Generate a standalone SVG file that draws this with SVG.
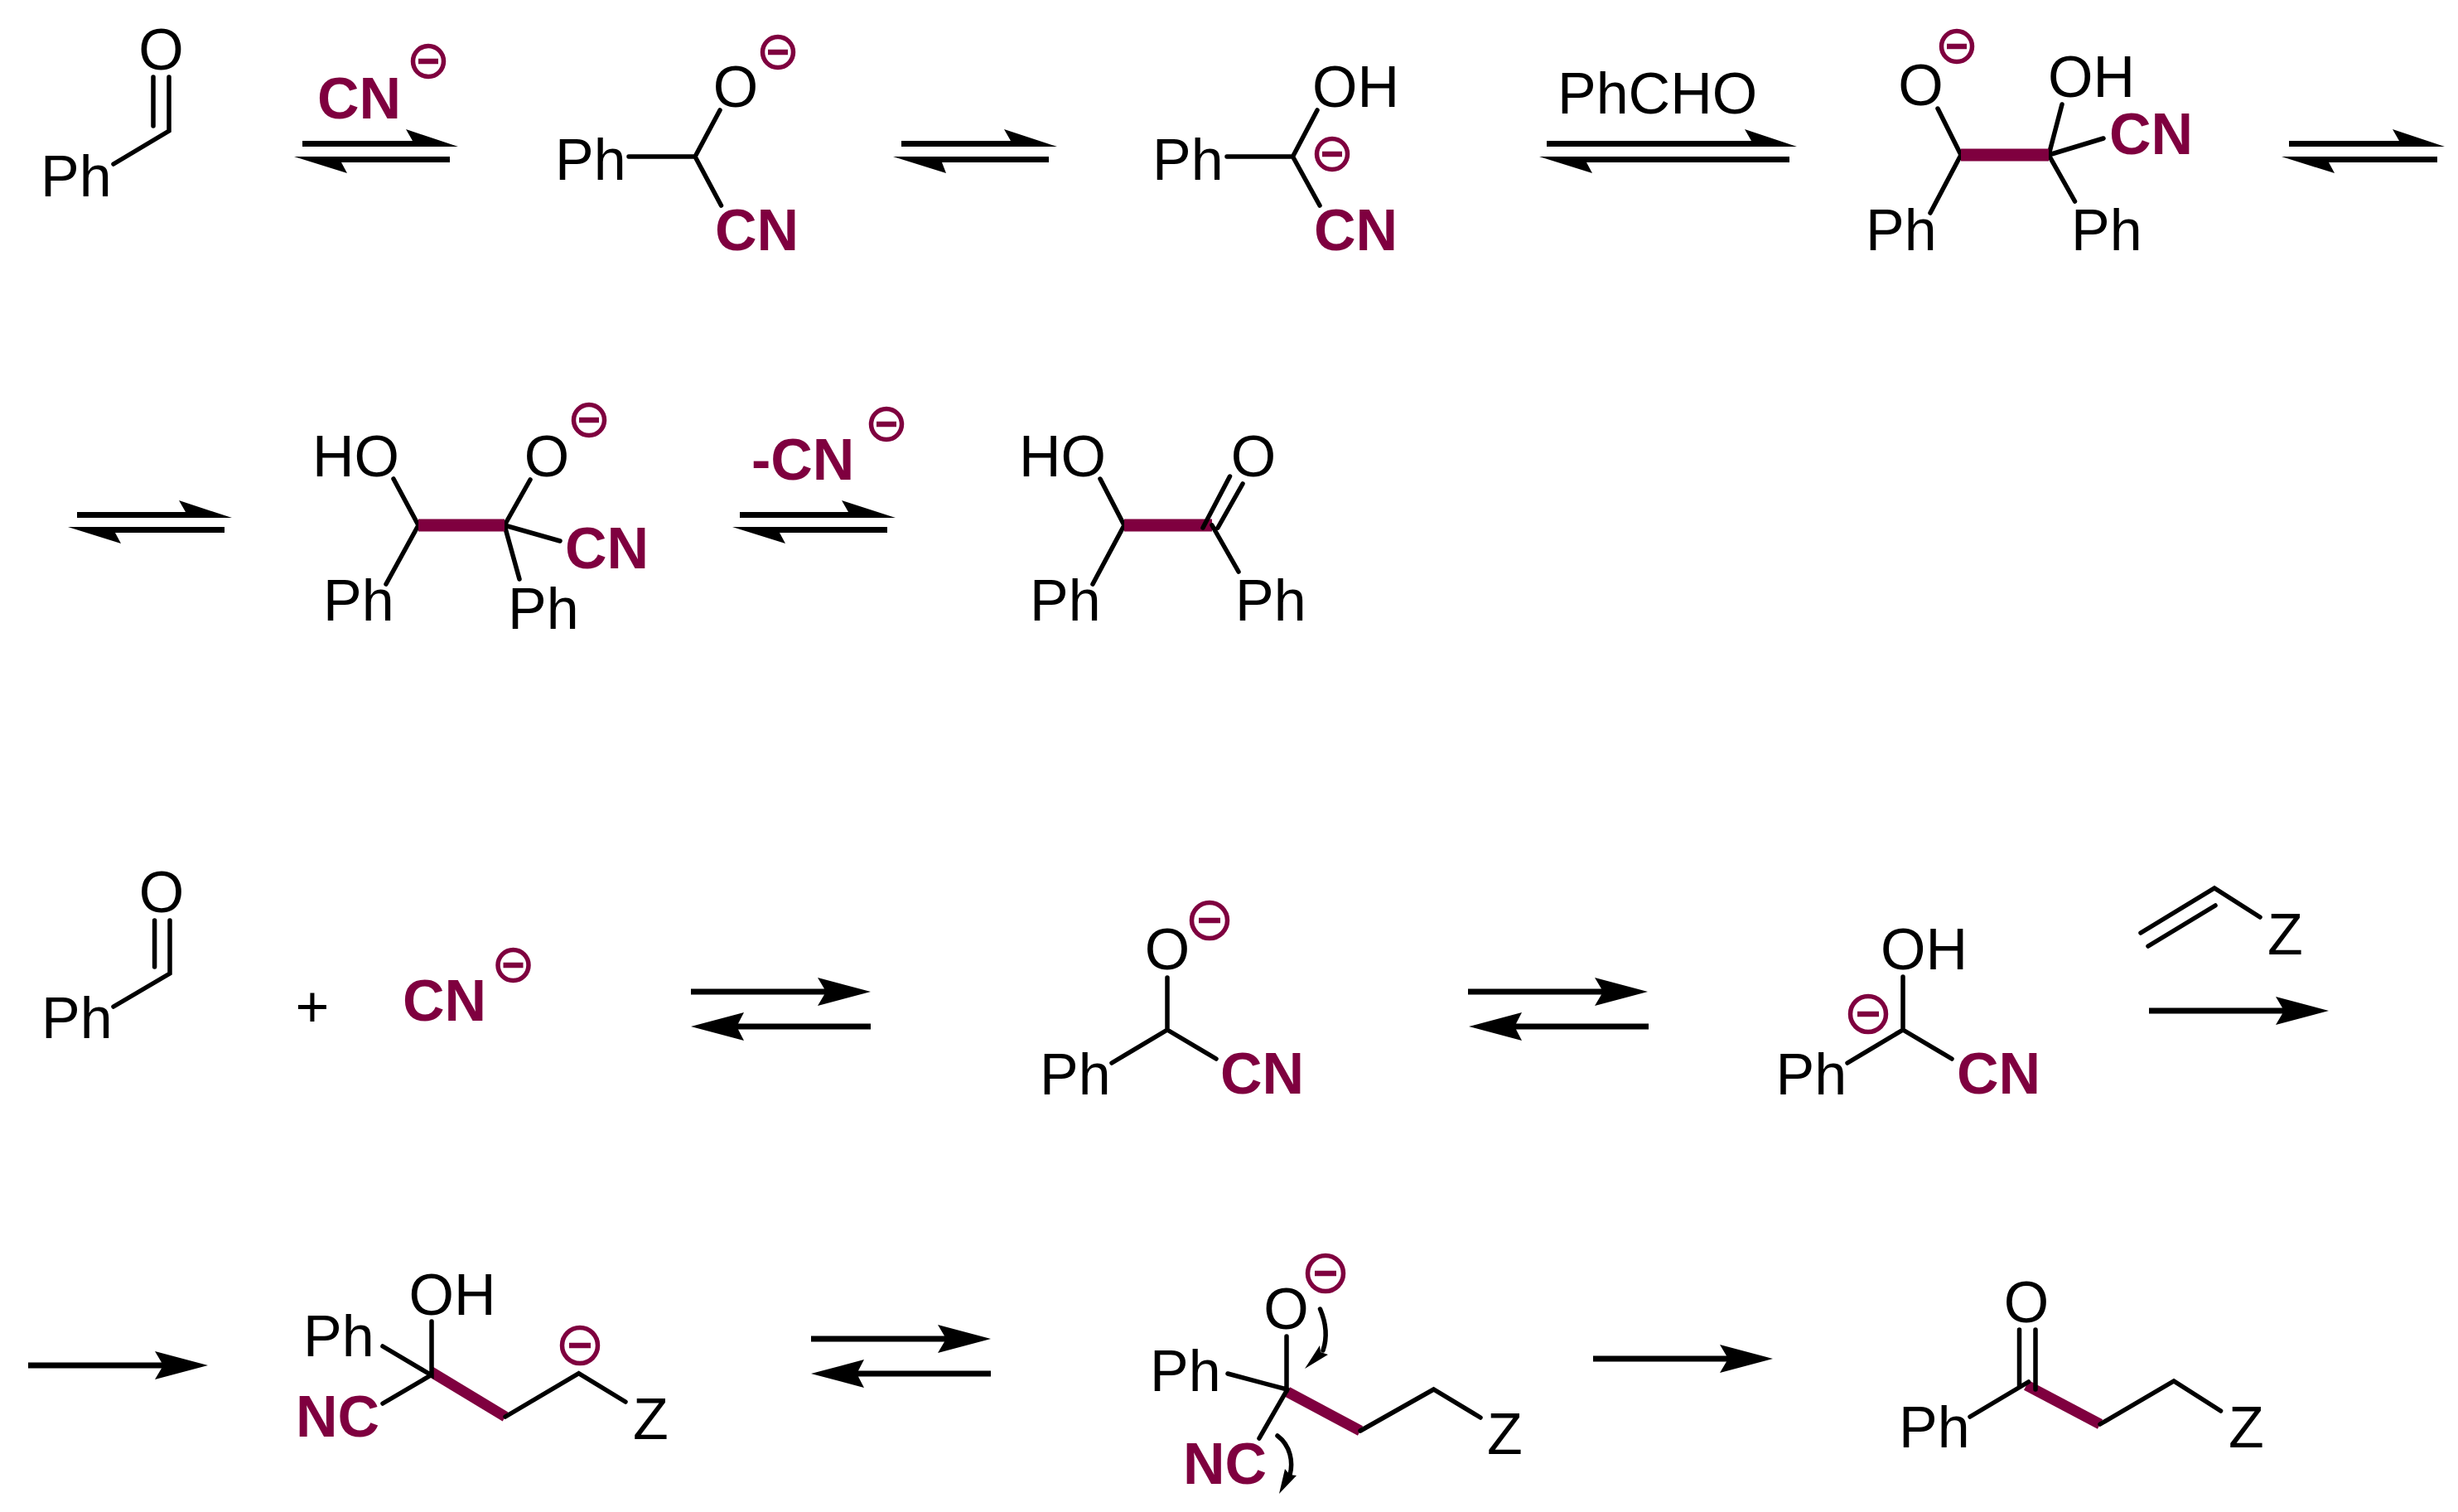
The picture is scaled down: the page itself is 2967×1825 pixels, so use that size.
<svg xmlns="http://www.w3.org/2000/svg" width="2967" height="1825" viewBox="0 0 2967 1825">
<style>
text{font-family:"Liberation Sans",Arial,sans-serif;font-size:70px;fill:#000}
.cn{font-weight:700;fill:#7f003f}
.b{stroke:#000;stroke-width:5.5;fill:none;stroke-linecap:round;stroke-linejoin:miter}
.p{stroke:#7f003f;stroke-width:15;fill:none}
.bar{fill:#000}
.m circle{fill:#fff;stroke:#7f003f;stroke-width:5.500}
.m path{stroke:#7f003f;stroke-width:6.500;fill:none}
</style>
<defs>
<g id="minus" class="m"><circle r="18.500"/><path d="M-12 0H12"/></g>
<g id="minusL" class="m"><circle r="21.500"/><path d="M-13 0H13"/></g>
<path id="fwd" d="M0 0L-64 -17L-56 -3.500H-217V3.500H-56L-64 17Z"/>
<path id="rev" d="M0 0L64 -17L57 -3.500H217V3.500H57L64 17Z"/>
</defs>
<rect width="2967" height="1825" fill="#fff"/>
<g id="connectors">
<path class="bar" d="M365 170H498L490 156L553 177H365Z"/><path class="bar" d="M355 189L419 209L412 196H543V189Z"/>
<path class="bar" d="M1088 170H1220L1212 156L1276 177H1088Z"/><path class="bar" d="M1078 189L1142 209L1137 196H1266V189Z"/>
<path class="bar" d="M1867 170H2114L2106 156L2169 177H1867Z"/><path class="bar" d="M1858 189L1922 209L1915 196H2160V189Z"/>
<path class="bar" d="M2763 170H2896L2888 156L2951 177H2763Z"/><path class="bar" d="M2754 189L2818 209L2811 196H2942V189Z"/>
<path class="bar" d="M93 618H224L216 604L280 625H93Z"/><path class="bar" d="M82 636L146 656L139 643H271V636Z"/>
<path class="bar" d="M893 618H1024L1016 604L1081 625H893Z"/><path class="bar" d="M884 636L948 656L941 643H1071V636Z"/>
<use href="#fwd" x="1051" y="1197"/><use href="#rev" x="834" y="1239"/>
<use href="#fwd" x="1989" y="1197"/><use href="#rev" x="1773" y="1239"/>
<use href="#fwd" x="2811" y="1220"/>
<use href="#fwd" x="251" y="1648"/>
<use href="#fwd" x="1196" y="1616"/><use href="#rev" x="979" y="1658"/>
<use href="#fwd" x="2140" y="1640"/>
</g>
<g id="s1"><text x="194.500" y="84" text-anchor="middle">O</text><path class="b" d="M185 93V152M204 93V158L137 198"/><text x="49" y="237">Ph</text></g>
<g id="cn1"><text class="cn" x="383" y="143">CN</text><use href="#minus" x="517" y="74"/></g>
<g id="s2"><text x="888" y="129" text-anchor="middle">O</text><use href="#minus" x="939" y="63"/><path class="b" d="M759 189H839L869 133M839 189L870.500 248"/><text x="670" y="217">Ph</text><text class="cn" x="863" y="302">CN</text></g>
<g id="s3"><text x="1584" y="129">OH</text><text x="1391" y="217">Ph</text><path class="b" d="M1481 189H1560.500L1590 133M1560.500 189L1593 248"/><use href="#minus" x="1608" y="186"/><text class="cn" x="1586" y="302">CN</text></g>
<g id="l1"><text x="1880" y="137">PhCHO</text></g>
<g id="s4"><text x="2318.500" y="127" text-anchor="middle">O</text><use href="#minus" x="2362" y="56"/><text x="2472" y="117">OH</text><path class="b" d="M2339 131L2367 187L2330 257M2489 126L2473 187L2504.500 243M2473 187L2539 167"/><path class="p" d="M2367 187H2473"/><text class="cn" x="2546" y="186">CN</text><text x="2252" y="302">Ph</text><text x="2500" y="302">Ph</text></g>
<g id="s5"><text x="377" y="575">HO</text><text x="660" y="575" text-anchor="middle">O</text><use href="#minus" x="711" y="507"/><path class="b" d="M475 578L505 634L466 705M640 579L609 634L627 699M609 634L676 653"/><path class="p" d="M505 634H609"/><text class="cn" x="682" y="686">CN</text><text x="390" y="749">Ph</text><text x="613" y="759">Ph</text></g>
<g id="cn2"><text class="cn" x="907" y="579">-CN</text><use href="#minus" x="1070" y="512"/></g>
<g id="s6"><text x="1230" y="575">HO</text><text x="1513" y="575" text-anchor="middle">O</text><path class="b" d="M1328 578L1357 634L1319 705"/><path class="p" d="M1357 634H1463"/><path class="b" d="M1452 637L1484.500 575M1470 637L1500 584M1463 634L1495 690"/><text x="1243" y="749">Ph</text><text x="1491" y="749">Ph</text></g>
<g id="s7"><text x="195" y="1101" text-anchor="middle">O</text><path class="b" d="M186.600 1111V1167M205 1111V1175L137 1215"/><text x="50" y="1253">Ph</text></g>
<g id="plus"><text x="377" y="1239" text-anchor="middle">+</text></g>
<g id="cn3"><text class="cn" x="486" y="1232">CN</text><use href="#minus" x="619.500" y="1165"/></g>
<g id="s8"><text x="1409" y="1170" text-anchor="middle">O</text><use href="#minusL" x="1460" y="1111"/><path class="b" d="M1409 1180V1243L1342 1283M1409 1243L1468 1278"/><text x="1255" y="1321">Ph</text><text class="cn" x="1473" y="1320">CN</text></g>
<g id="s9"><text x="2270" y="1170">OH</text><use href="#minusL" x="2255" y="1224"/><path class="b" d="M2297 1179V1243L2230 1283M2297 1243L2356 1278"/><text x="2143.500" y="1321">Ph</text><text class="cn" x="2362" y="1320">CN</text></g>
<g id="vinyl"><path class="b" d="M2584 1126L2673 1072L2728 1107M2593 1142L2674 1093"/><text x="2737" y="1152">Z</text></g>
<g id="s10"><text x="366" y="1637">Ph</text><text x="493.500" y="1587">OH</text><use href="#minusL" x="700" y="1624"/><path class="p" style="stroke-width:13" d="M519 1655L610 1710"/><path class="b" d="M521 1595V1660L462 1625M520 1660L462 1694M610 1710L698.600 1657.700L755 1692"/><text class="cn" x="357" y="1734">NC</text><text x="764" y="1737">Z</text></g>
<g id="s11"><text x="1552.600" y="1604" text-anchor="middle">O</text><use href="#minusL" x="1600" y="1537"/><path class="p" style="stroke-width:13" d="M1554 1680L1642 1727"/><path class="b" d="M1553 1613V1677L1482 1658M1554 1677L1520 1736M1642 1727L1730.500 1677L1787 1711"/><text x="1388" y="1679">Ph</text><text class="cn" x="1428" y="1791">NC</text><text x="1795" y="1755">Z</text>
<path class="b" d="M1593.500 1580C1602 1600 1602 1615 1597 1630"/><path class="bar" d="M1575 1652L1593 1624L1594 1632L1603 1635Z"/>
<path class="b" d="M1542 1733C1558 1745 1561 1765 1557 1780"/><path class="bar" d="M1544 1803L1551 1773L1557 1780L1565 1781Z"/></g>
<g id="s12"><text x="2446" y="1596" text-anchor="middle">O</text><path class="p" style="stroke-width:13" d="M2446 1672L2535 1719"/><path class="b" d="M2437.500 1605V1673M2457 1605V1677M2448.500 1668L2378 1710M2535 1719L2624 1667L2680.600 1703"/><text x="2292" y="1747">Ph</text><text x="2690" y="1747">Z</text></g>
</svg>
